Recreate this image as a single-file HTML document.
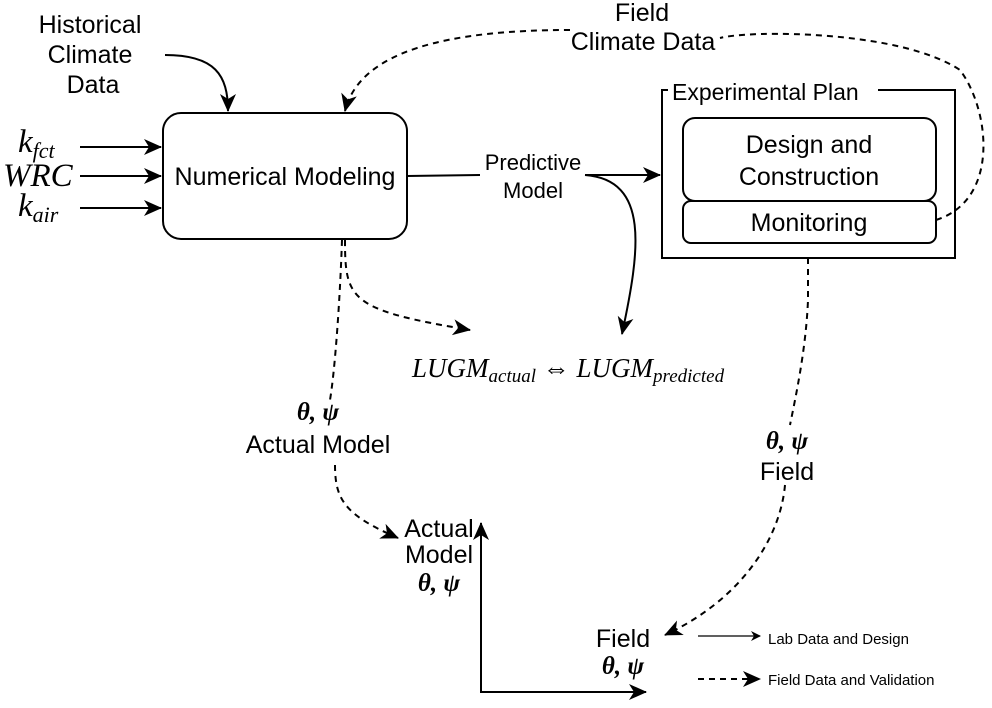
<!DOCTYPE html>
<html><head><meta charset="utf-8"><style>
html,body{margin:0;padding:0;background:#fff;}
svg{display:block;}
text{font-family:"Liberation Sans",sans-serif;fill:#000;}
.m{font-family:"Liberation Serif",serif;font-style:italic;}
.g{font-family:"Liberation Serif",serif;font-style:italic;font-weight:bold;}
</style></head><body>
<svg width="992" height="708" viewBox="0 0 992 708" xmlns="http://www.w3.org/2000/svg" font-size="25">
<defs>
<marker id="a" markerWidth="10" markerHeight="10" refX="9" refY="5" orient="auto" markerUnits="userSpaceOnUse" viewBox="0 0 10 10">
<path d="M0,0 L10,5 L0,10 L3,5 Z" fill="#000"/></marker>
<marker id="b" markerWidth="18" markerHeight="18" refX="17" refY="9" orient="auto" markerUnits="userSpaceOnUse" viewBox="0 0 18 18">
<path d="M0,1 L18,9 L0,17 L5,9 Z" fill="#000"/></marker>
</defs>
<g fill="none" stroke="#000" stroke-width="2">
<rect x="163" y="113" width="244" height="126" rx="18"/>
<rect x="662" y="90" width="293" height="168"/>
<rect x="683" y="118" width="253" height="83" rx="12"/>
<rect x="683" y="201" width="253" height="42" rx="8"/>
<path d="M80,147 L161,147" marker-end="url(#b)"/>
<path d="M80,176 L161,176" marker-end="url(#b)"/>
<path d="M80,208 L161,208" marker-end="url(#b)"/>
<path d="M165,55 C215,55 228,75 228,111" marker-end="url(#b)"/>
<path d="M407,176 L480,175"/>
<path d="M585,175 L660,175" marker-end="url(#b)"/>
<path d="M585,175 C650,180 640,250 622,334" marker-end="url(#b)"/>
<g stroke-dasharray="6,5">
<path d="M936,220 C1000,200 990,110 960,70 C900,30 750,30 720,38"/>
<path d="M570,30 C450,30 360,50 345,111" marker-end="url(#b)"/>
<path d="M345,240 C345,300 350,310 470,330" marker-end="url(#b)"/>
<path d="M342,240 C340,300 335,370 330,400"/>
<path d="M335,465 C335,500 345,515 398,538" marker-end="url(#b)"/>
<path d="M808,258 L808,300 C806,350 795,400 790,425"/>
<path d="M785,485 C780,540 740,600 665,635" marker-end="url(#b)"/>
<path d="M698,679 L760,679" marker-end="url(#b)"/>
</g>
<path d="M698,636 L760,636" stroke-width="1.2" marker-end="url(#a)"/>
<path d="M481,692 L481,523" marker-end="url(#b)"/>
<path d="M480,692 L646,692" marker-end="url(#b)"/>
</g>
<rect x="668" y="80" width="210" height="22" fill="#fff"/>
<text x="672" y="100" font-size="23">Experimental Plan</text>
<text x="90" y="33" text-anchor="middle">Historical</text>
<text x="90" y="63" text-anchor="middle">Climate</text>
<text x="93" y="93" text-anchor="middle">Data</text>
<text x="642" y="21" text-anchor="middle">Field</text>
<text x="643" y="50" text-anchor="middle">Climate Data</text>
<text x="285" y="185" text-anchor="middle">Numerical Modeling</text>
<text x="533" y="170" text-anchor="middle" font-size="22">Predictive</text>
<text x="533" y="198" text-anchor="middle" font-size="22">Model</text>
<text x="809" y="153" text-anchor="middle">Design and</text>
<text x="809" y="185" text-anchor="middle">Construction</text>
<text x="809" y="231" text-anchor="middle">Monitoring</text>
<text class="m" x="18" y="152" font-size="33">k<tspan font-size="22" dy="6">fct</tspan></text>
<text class="m" x="3" y="186" font-size="33">WRC</text>
<text class="m" x="18" y="216" font-size="33">k<tspan font-size="22" dy="6">air</tspan></text>
<text class="m" x="412" y="377" font-size="27">LUGM<tspan font-size="19" dy="5">actual</tspan><tspan dy="-5" font-style="normal"> ⇔ </tspan>LUGM<tspan font-size="19" dy="5">predicted</tspan></text>
<text class="g" x="318" y="420" text-anchor="middle" font-size="25">θ, ψ</text>
<text x="318" y="453" text-anchor="middle">Actual Model</text>
<text class="g" x="787" y="449" text-anchor="middle" font-size="25">θ, ψ</text>
<text x="787" y="480" text-anchor="middle">Field</text>
<text x="439" y="537" text-anchor="middle">Actual</text>
<text x="439" y="563" text-anchor="middle">Model</text>
<text class="g" x="439" y="591" text-anchor="middle" font-size="25">θ, ψ</text>
<text x="623" y="647" text-anchor="middle">Field</text>
<text class="g" x="623" y="674" text-anchor="middle" font-size="25">θ, ψ</text>
<text x="768" y="644" font-size="15">Lab Data and Design</text>
<text x="768" y="685" font-size="15">Field Data and Validation</text>
</svg>
</body></html>
